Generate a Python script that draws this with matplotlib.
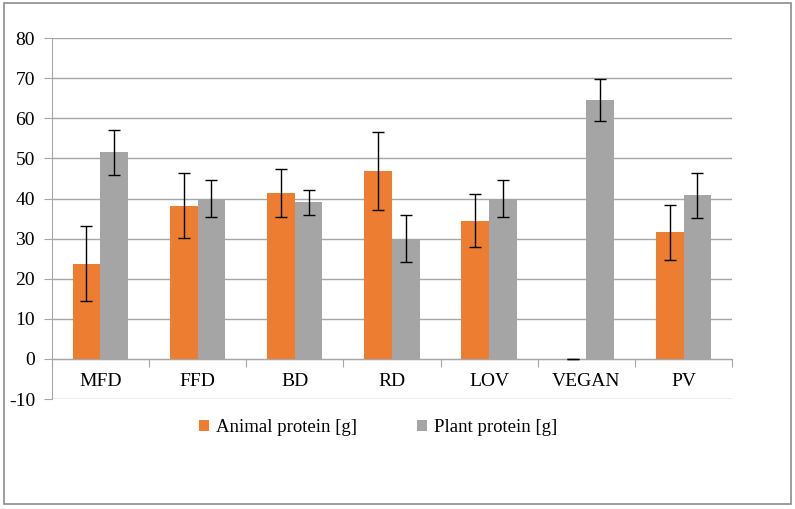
import matplotlib.pyplot as plt
import numpy as np
from matplotlib.patches import Rectangle

plt.rcParams['font.family'] = ['Liberation Serif', 'DejaVu Serif']
plt.rcParams['axes.unicode_minus'] = False

# diets and means / SD
groupes = ['MFD', 'FFD', 'BD', 'RD', 'LOV', 'VEGAN', 'PV']
animal = [23.8, 38.2, 41.4, 46.9, 34.5, 0.0, 31.6]
animal_err = [9.3, 8.1, 6.0, 9.8, 6.7, 0.0, 6.8]
vegetal = [51.5, 40.0, 39.1, 30.0, 40.0, 64.5, 40.8]
vegetal_err = [5.5, 4.7, 3.1, 5.9, 4.7, 5.2, 5.7]
legende = ['Animal protein [g]', 'Plant protein [g]']

orange = '#ED7D31'
gris = '#A5A5A5'
grille = '#A6A6A6'

fig = plt.figure(figsize=(7.95, 5.09), dpi=100)
ax = fig.add_axes([0.065, 0.216, 0.856, 0.709])

x = np.arange(len(groupes))
w = 0.285
ax.bar(x - w/2, animal, w, color=orange, label=legende[0], zorder=2)
ax.bar(x + w/2, vegetal, w, color=gris, label=legende[1], zorder=2)
ax.errorbar(x - w/2, animal, yerr=animal_err, fmt='none', ecolor='black',
            elinewidth=1, capsize=4, capthick=1, zorder=3)
ax.errorbar(x + w/2, vegetal, yerr=vegetal_err, fmt='none', ecolor='black',
            elinewidth=1, capsize=4, capthick=1, zorder=3)

ax.set_xlim(-0.5, len(groupes) - 0.5)
ax.set_ylim(-10, 80)
ax.set_yticks(range(-10, 81, 10))
ax.yaxis.grid(True, color=grille, linewidth=1)
ax.set_axisbelow(True)

# x axis sits on zero, ticks between categories
ax.spines['bottom'].set_position(('data', 0))
ax.spines['bottom'].set_color(grille)
ax.spines['left'].set_color(grille)
ax.spines['top'].set_visible(False)
ax.spines['right'].set_visible(False)
ax.set_xticks(np.arange(len(groupes) + 1) - 0.5)
ax.set_xticklabels([])
ax.set_xticks(x, minor=True)
ax.set_xticklabels(groupes, minor=True)
ax.tick_params(axis='x', which='major', length=6, color=grille, direction='out')
ax.tick_params(axis='x', which='minor', length=0, pad=10, labelsize=14)
ax.tick_params(axis='y', length=6, color=grille, labelsize=14, pad=6)

fig.legend(loc='center', bbox_to_anchor=(0.476, 0.16), ncol=2, frameon=False,
           fontsize=13.5, handlelength=0.5, handleheight=0.5, handletextpad=0.4,
           columnspacing=3.2)

# outer frame of the chart area
fig.patches.append(Rectangle((0.005, 0.01), 0.99, 0.985, transform=fig.transFigure,
                             fill=False, edgecolor='#8C8C8C', linewidth=1.2))

fig.savefig('out.png', dpi=100)
